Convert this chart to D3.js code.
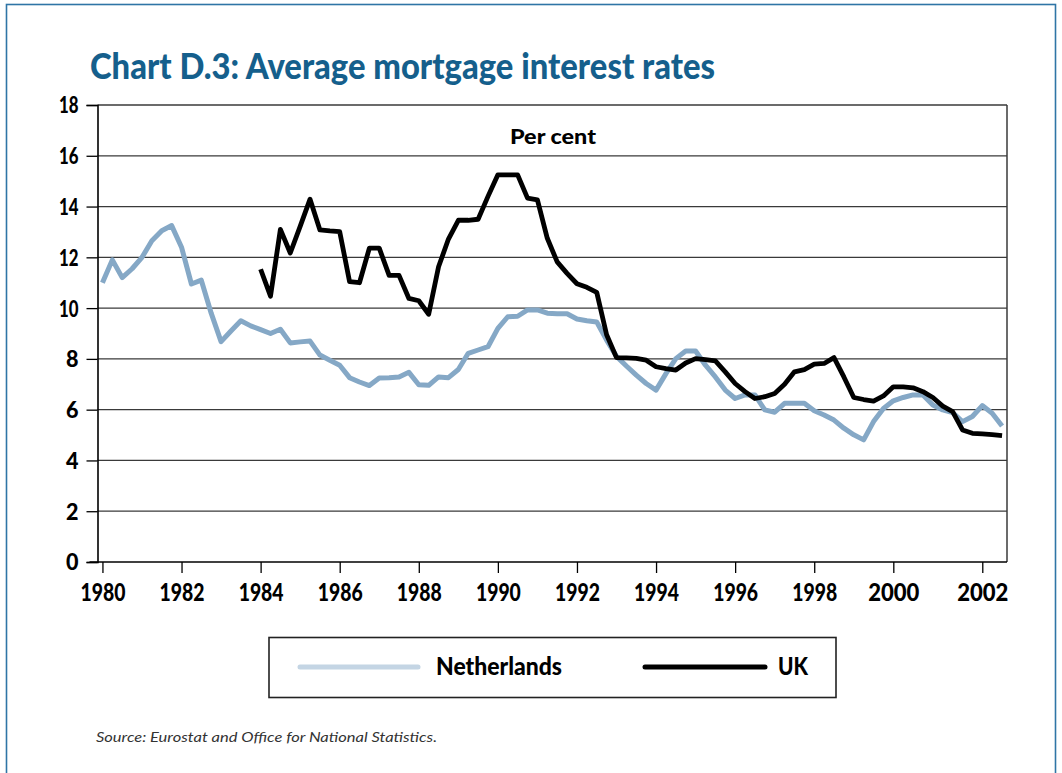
<!DOCTYPE html>
<html>
<head>
<meta charset="utf-8">
<script src="https://cdn.jsdelivr.net/npm/d3@7"></script>
<style>
  html, body { margin: 0; padding: 0; background: #fff; }
  svg { display: block; }
  text { font-family: "Lato", "Open Sans", sans-serif; }
</style>
</head>
<body>
<svg id="chart" width="1062" height="773"></svg>
<script>
// Quarterly average mortgage interest rates, per cent
const startYear = 1980;                 // first quarter of the Netherlands series
const ukStartYear = 1984;               // first quarter of the UK series

const netherlands = [
  11.0, 11.9, 11.2, 11.55, 12.0, 12.65, 13.05, 13.25,
  12.4, 10.95, 11.1, 9.8, 8.68, 9.1, 9.5, 9.3,
  9.15, 9.0, 9.17, 8.63, 8.67, 8.7, 8.15, 7.95,
  7.75, 7.26, 7.09, 6.95, 7.25, 7.26, 7.29, 7.47,
  6.98, 6.96, 7.29, 7.26, 7.58, 8.22, 8.35, 8.48,
  9.2, 9.66, 9.68, 9.93, 9.93, 9.8, 9.78, 9.78,
  9.57, 9.5, 9.45, 8.74, 8.1, 7.72, 7.36, 7.03,
  6.77, 7.42, 8.01, 8.31, 8.31, 7.75, 7.29, 6.77,
  6.44, 6.58, 6.58, 5.99, 5.9, 6.25, 6.25, 6.25,
  5.96, 5.79, 5.59, 5.27, 5.01, 4.81, 5.53, 6.05,
  6.35, 6.48, 6.58, 6.58, 6.18, 5.99, 5.88, 5.53,
  5.73, 6.16, 5.86, 5.36
];

const uk = [
  11.53, 10.47, 13.1, 12.17, 13.22, 14.29, 13.08, 13.04,
  13.01, 11.04, 11.0, 12.36, 12.36, 11.29, 11.29, 10.38,
  10.29, 9.76, 11.63, 12.72, 13.46, 13.46, 13.5, 14.4,
  15.25, 15.25, 15.25, 14.33, 14.26, 12.75, 11.82, 11.37,
  10.96, 10.82, 10.62, 8.95, 8.05, 8.04, 8.02, 7.95,
  7.69, 7.62, 7.56, 7.84, 8.01, 7.97, 7.92, 7.49,
  7.03, 6.71, 6.44, 6.51, 6.64, 7.0, 7.49, 7.58,
  7.79, 7.82, 8.05, 7.29, 6.48, 6.4, 6.34, 6.54,
  6.9, 6.9, 6.86, 6.71, 6.48, 6.14, 5.92, 5.2,
  5.07, 5.05, 5.02, 4.98
];

const seriesNames = ["Netherlands", "UK"];
const yTicks = [0, 2, 4, 6, 8, 10, 12, 14, 16, 18];
const xTickValues = [1980, 1982, 1984, 1986, 1988, 1990, 1992, 1994, 1996, 1998, 2000, 2002.25];
const xTickLabels = ["1980", "1982", "1984", "1986", "1988", "1990", "1992", "1994", "1996", "1998", "2000", "2002"];

const titleText = "Chart D.3: Average mortgage interest rates";
const unitText = "Per cent";
const sourceText = "Source: Eurostat and Office for National Statistics.";

// ---- layout ----
const svg = d3.select("#chart");
const plot = { left: 97.5, right: 1007, top: 105, bottom: 562 };
const nlColor = "#85a8c6";
const nlLegendColor = "#c4d5e4";
const ukColor = "#000";
const titleColor = "#155f8c";
const heavy = 900;

const x = d3.scaleLinear().domain([1979.875, 2002.875]).range([plot.left, plot.right]);
const y = d3.scaleLinear().domain([0, 18]).range([plot.bottom, plot.top]);

// approximate width of a bold condensed numeral label
function numWidth(s, digit, one) {
  let w = 0;
  for (const c of s) w += (c === "1") ? one : digit;
  return w;
}

// outer frame
svg.append("rect")
  .attr("x", 6.5).attr("y", 4.5).attr("width", 1049).attr("height", 800)
  .attr("fill", "none").attr("stroke", "#2f75a6").attr("stroke-width", 1.6);

// title
svg.append("text")
  .attr("x", 90).attr("y", 79)
  .attr("font-size", 36).attr("font-weight", heavy)
  .attr("fill", titleColor)
  .attr("textLength", 625).attr("lengthAdjust", "spacingAndGlyphs")
  .text(titleText);

// gridlines
svg.append("g")
  .selectAll("line")
  .data(yTicks.filter(d => d > 0))
  .join("line")
  .attr("x1", plot.left).attr("x2", plot.right)
  .attr("y1", d => y(d)).attr("y2", d => y(d))
  .attr("stroke", "#3a3a3a").attr("stroke-width", 1.3);

// right border of plot
svg.append("line")
  .attr("x1", plot.right).attr("x2", plot.right)
  .attr("y1", plot.top).attr("y2", plot.bottom)
  .attr("stroke", "#3a3a3a").attr("stroke-width", 1.5);

// y axis
const yAxis = svg.append("g")
  .attr("transform", `translate(${plot.left},0)`)
  .call(d3.axisLeft(y).tickValues(yTicks).tickSize(11).tickPadding(8).tickFormat(d3.format("d")));
yAxis.select(".domain").attr("stroke", "#000").attr("stroke-width", 1.6);
yAxis.selectAll(".tick line").attr("stroke", "#000").attr("stroke-width", 1.3);
yAxis.selectAll(".tick text")
  .attr("font-size", 22).attr("font-weight", heavy).attr("fill", "#000")
  .attr("font-family", "'Lato', sans-serif")
  .attr("dy", "0.36em")
  .each(function (d) {
    const s = String(d);
    d3.select(this).attr("textLength", numWidth(s, 12.5, 7)).attr("lengthAdjust", "spacingAndGlyphs");
  });

// x axis
const xAxis = svg.append("g")
  .attr("transform", `translate(0,${plot.bottom})`)
  .call(d3.axisBottom(x).tickValues(xTickValues).tickSize(11).tickPadding(10)
    .tickFormat((d, i) => xTickLabels[i]));
xAxis.select(".domain").attr("stroke", "#000").attr("stroke-width", 1.6)
  .attr("d", `M${plot.left - 8},0H${plot.right}`);
xAxis.selectAll(".tick line").attr("stroke", "#000").attr("stroke-width", 1.3);
xAxis.selectAll(".tick text")
  .attr("font-size", 25).attr("font-weight", heavy).attr("fill", "#000")
  .attr("dy", "0.72em")
  .each(function (d, i) {
    const s = xTickLabels[i];
    d3.select(this).attr("textLength", numWidth(s, 12.8, 6.5)).attr("lengthAdjust", "spacingAndGlyphs");
  });

// unit label
svg.append("text")
  .attr("x", 553).attr("y", 144)
  .attr("text-anchor", "middle")
  .attr("font-size", 21).attr("font-weight", heavy)
  .attr("textLength", 86).attr("lengthAdjust", "spacingAndGlyphs")
  .text(unitText);

// series lines
const nlData = netherlands.map((v, i) => ({ t: startYear + i / 4, v }));
const ukData = uk.map((v, i) => ({ t: ukStartYear + i / 4, v }));

const line = d3.line().x(d => x(d.t)).y(d => y(d.v));

svg.append("path")
  .datum(nlData)
  .attr("d", line)
  .attr("fill", "none")
  .attr("stroke", nlColor)
  .attr("stroke-width", 5)
  .attr("stroke-linejoin", "round");

svg.append("path")
  .datum(ukData)
  .attr("d", line)
  .attr("fill", "none")
  .attr("stroke", ukColor)
  .attr("stroke-width", 4.8)
  .attr("stroke-linejoin", "round");

// legend
const legend = svg.append("g");
legend.append("rect")
  .attr("x", 269).attr("y", 637.5).attr("width", 567).attr("height", 60)
  .attr("fill", "#fff").attr("stroke", "#222").attr("stroke-width", 1.6);

const legendItems = [
  { name: seriesNames[0], color: nlLegendColor, x1: 300, x2: 418, tx: 436, tw: 126 },
  { name: seriesNames[1], color: ukColor, x1: 645, x2: 765, tx: 778, tw: 30 }
];
legendItems.forEach(it => {
  legend.append("line")
    .attr("x1", it.x1).attr("x2", it.x2).attr("y1", 667).attr("y2", 667)
    .attr("stroke", it.color).attr("stroke-width", 5).attr("stroke-linecap", "round");
  legend.append("text")
    .attr("x", it.tx).attr("y", 675)
    .attr("font-size", 25).attr("font-weight", heavy)
    .attr("textLength", it.tw).attr("lengthAdjust", "spacingAndGlyphs")
    .text(it.name);
});

// source note
svg.append("text")
  .attr("x", 96).attr("y", 742)
  .attr("font-size", 14).attr("font-style", "italic").attr("fill", "#333")
  .attr("font-family", "'Open Sans', 'Lato', sans-serif")
  .attr("font-weight", 400)
  .attr("textLength", 341).attr("lengthAdjust", "spacingAndGlyphs")
  .text(sourceText);
</script>
</body>
</html>
